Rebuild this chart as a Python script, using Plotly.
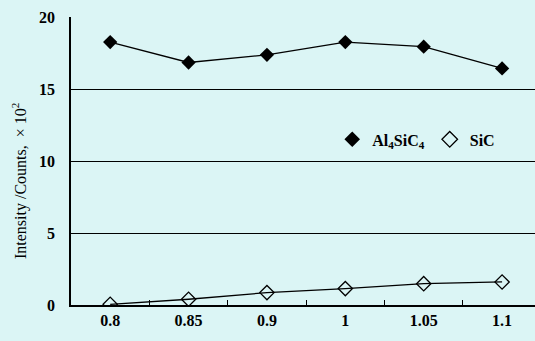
import plotly.graph_objects as go

categories = ["0.8", "0.85", "0.9", "1", "1.05", "1.1"]
al4sic4 = [18.26, 16.84, 17.37, 18.26, 17.94, 16.43]
sic = [0.05, 0.4, 0.86, 1.14, 1.48, 1.6]
yticks = [0, 5, 10, 15, 20]

bg = "#DBF5F5"
font_fam = "Liberation Serif, Times New Roman, serif"

fig = go.Figure()
fig.add_trace(go.Scatter(
    x=categories, y=al4sic4, mode="lines+markers", showlegend=False,
    line=dict(color="black", width=1.3),
    marker=dict(symbol="diamond", size=11, color="black"),
))
fig.add_trace(go.Scatter(
    x=categories, y=sic, mode="lines+markers", showlegend=False,
    line=dict(color="black", width=1.3),
    marker=dict(symbol="diamond-open", size=11, color="black", line=dict(width=1.3)),
))
fig.add_trace(go.Scatter(
    x=[None], y=[None], mode="markers", name="Al<sub>4</sub>SiC<sub>4</sub>",
    marker=dict(symbol="diamond", size=12, color="black"),
))
fig.add_trace(go.Scatter(
    x=[None], y=[None], mode="markers", name="SiC",
    marker=dict(symbol="diamond-open", size=12, color="black", line=dict(width=1.3)),
))

fig.update_layout(
    width=535, height=341,
    margin=dict(l=71, r=0, t=17, b=36),
    paper_bgcolor=bg, plot_bgcolor=bg,
    font=dict(family=font_fam, size=16, color="black"),
    legend=dict(
        orientation="h", x=0.563, y=0.575, xanchor="left", yanchor="middle",
        bgcolor="rgba(0,0,0,0)", font=dict(size=16, family=font_fam, weight="bold"),
        itemwidth=30, tracegroupgap=0,
    ),
    xaxis=dict(
        type="category", categoryorder="array", categoryarray=categories,
        range=[-0.5, 5.42], showgrid=False, showline=True, linecolor="black",
        linewidth=1.5, ticks="inside", tickson="boundaries", ticklen=5,
        tickcolor="black", tickfont=dict(size=16, weight="bold"), zeroline=False,
    ),
    yaxis=dict(
        range=[0, 20], tickvals=yticks, showgrid=True, gridcolor="black",
        gridwidth=1.2, showline=True, linecolor="black", linewidth=1.5,
        ticks="outside", ticklen=11, tickcolor=bg,
        tickfont=dict(size=16, weight="bold"), zeroline=False,
    ),
    annotations=[dict(
        text="Intensity /Counts,  × 10<sup>2</sup>", textangle=-90,
        xref="paper", yref="paper", x=(19 - 71) / 464, y=(305 - 181) / 288,
        xanchor="center", yanchor="middle", showarrow=False,
        font=dict(size=16, family=font_fam),
    )],
)

fig.write_html("out.html")
